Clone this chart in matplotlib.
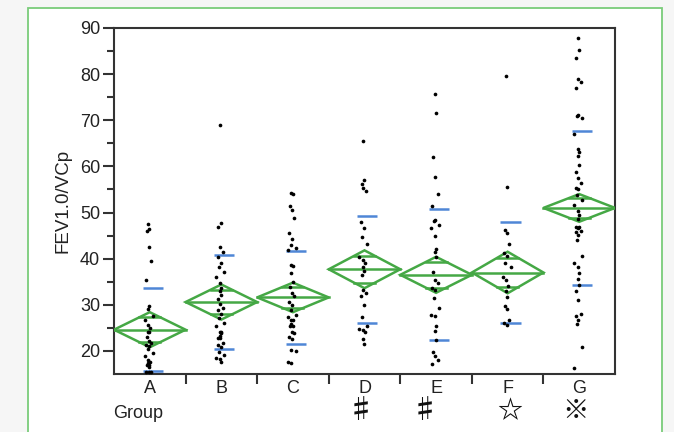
import numpy as np
import matplotlib
matplotlib.use("Agg")
import matplotlib.pyplot as plt
from matplotlib.patches import Rectangle, Polygon

plt.rcParams['font.family'] = ['Liberation Sans', 'DejaVu Sans', 'Noto Sans CJK JP']

# ---- data -------------------------------------------------------------
groups = ["A", "B", "C", "D", "E", "F", "G"]
marks = ["", "", "", "\u266F", "\u266F", "\u2606", "\u203B"]

group_a = [47.5, 46.4, 45.9, 42.6, 39.4, 35.4, 29.8, 29.1, 27.6, 26.6, 25.6, 24.9,
           24.2, 24.0, 23.1, 22.2, 21.7, 21.3, 21.1, 20.4, 19.5, 18.8, 18.0, 17.5,
           17.3, 17.0, 17.0, 16.6, 15.5, 15.5, 15.4]
group_b = [69.0, 47.7, 46.8, 42.6, 41.5, 40.4, 39.1, 38.3, 37.2, 36.1, 34.7, 33.6,
           32.9, 32.1, 31.2, 30.2, 29.3, 28.9, 28.0, 27.1, 26.0, 25.3, 24.2, 24.0,
           23.3, 23.8, 22.7, 22.7, 21.7, 21.3, 20.9, 19.8, 19.1, 18.4, 18.2, 17.5]
group_c = [54.3, 54.0, 51.4, 50.6, 48.8, 45.5, 44.2, 43.0, 42.3, 41.9, 38.6, 38.4,
           36.8, 35.0, 33.9, 32.6, 31.8, 30.7, 30.0, 28.9, 27.8, 27.4, 26.7, 26.7,
           25.9, 25.3, 25.3, 24.2, 23.8, 23.1, 22.5, 20.2, 19.9, 17.7, 17.3]
group_d = [65.6, 57.1, 56.2, 55.3, 54.7, 48.0, 46.6, 44.8, 43.2, 40.4, 39.7, 39.0,
           38.3, 37.4, 36.5, 33.1, 32.6, 31.8, 30.0, 27.4, 25.3, 24.7, 24.6, 24.2,
           22.5, 21.4]
group_e = [75.8, 71.6, 62.0, 57.8, 54.0, 51.4, 48.4, 48.2, 47.3, 46.6, 44.9, 42.0,
           41.5, 40.4, 37.2, 35.4, 34.7, 33.6, 33.2, 31.4, 29.3, 27.8, 27.6, 25.3,
           24.4, 22.4, 19.8, 18.9, 18.0, 17.2]
group_f = [79.6, 55.5, 46.2, 45.5, 43.2, 41.2, 40.6, 39.0, 38.3, 36.1, 35.4, 34.1,
           32.9, 31.6, 29.8, 29.0, 26.6, 26.0, 25.6]
group_g = [87.8, 85.3, 83.6, 79.0, 78.3, 77.0, 71.2, 70.9, 70.4, 67.0, 63.8, 63.1,
           62.2, 60.4, 58.8, 57.5, 56.4, 55.3, 55.2, 53.9, 52.8, 51.7, 50.4, 49.5,
           48.5, 46.8, 46.8, 46.6, 46.1, 45.8, 45.1, 44.1, 40.5, 39.1, 38.1, 36.9,
           35.5, 34.4, 32.9, 31.1, 28.0, 27.5, 26.8, 25.9, 20.8, 16.2]
values = [group_a, group_b, group_c, group_d, group_e, group_f, group_g]

means = [24.6, 30.6, 31.6, 37.7, 36.5, 37.0, 51.0]
std_devs = [9.0, 10.2, 10.0, 11.6, 14.2, 11.0, 16.6]
ci_half = [3.8, 3.8, 3.2, 4.1, 3.9, 4.5, 3.0]

# ---- styling ------------------------------------------------------------
GREEN = "#45a845"
BLUE = "#4f86d6"
FRAME = "#7acc7a"
AXIS = "#333333"
JITTER = [0.0, 0.015, -0.02, 0.005, 0.04, -0.03, 0.01, -0.01, 0.06, -0.05, 0.0, 0.02]

fig = plt.figure(figsize=(6.74, 4.32), dpi=100, facecolor="#f6f6f6")
fig.patches.append(Rectangle((28 / 674, -0.1), (662 - 28) / 674, 1.1 - 8 / 432,
                             transform=fig.transFigure, facecolor="white",
                             edgecolor=FRAME, linewidth=1.3, zorder=-5))

ax = fig.add_axes([114 / 674, 1 - 374 / 432, (615 - 114) / 674, (374 - 28) / 432])
ax.set_zorder(2)
ax.set_facecolor("white")

for i, vals in enumerate(values):
    xc = i + 1
    m, s, c = means[i], std_devs[i], ci_half[i]
    xs = [xc - 0.02 + JITTER[k % len(JITTER)] for k in range(len(vals))]
    ax.scatter(xs, vals, s=7, color="black", zorder=4, linewidths=0)

    # mean diamond with overlap marks
    diamond = Polygon([(xc - 0.5, m), (xc, m + c), (xc + 0.5, m), (xc, m - c)],
                      closed=True, fill=False, edgecolor=GREEN, linewidth=1.8, zorder=3)
    ax.add_patch(diamond)
    ax.plot([xc - 0.5, xc + 0.5], [m, m], color=GREEN, lw=1.8, zorder=3)
    off = c / np.sqrt(2)
    half = 0.5 * (1 - 1 / np.sqrt(2))
    for yy in (m + off, m - off):
        ax.plot([xc - half, xc + half], [yy, yy], color=GREEN, lw=1.8, zorder=3)

    # standard deviation markers
    for yy in (m + s, m - s):
        ax.plot([xc - 0.10, xc + 0.18], [yy, yy], color=BLUE, lw=1.8, zorder=3,
                solid_capstyle="butt")

ax.set_xlim(0.5, 7.5)
ax.set_ylim(15, 90)

for sp in ax.spines.values():
    sp.set_color(AXIS)
    sp.set_linewidth(1.5)

ax.set_yticks(np.arange(20, 91, 10))
ax.set_yticks(np.arange(25, 90, 10), minor=True)
ax.tick_params(axis="y", which="major", length=8, width=1.5, color=AXIS,
               labelsize=13, pad=2, labelcolor="#222222")
ax.tick_params(axis="y", which="minor", length=5, width=1.5, color=AXIS)

ax.set_xticks(np.arange(1.5, 7.5, 1.0))
ax.set_xticklabels([])
ax.set_xticks(np.arange(1, 8), minor=True)
ax.set_xticklabels(groups, minor=True)
ax.tick_params(axis="x", which="major", length=7, width=1.5, color=AXIS)
ax.tick_params(axis="x", which="minor", length=0, labelsize=13, pad=4,
               labelcolor="#222222")

ax.set_ylabel("FEV1.0/VCp", fontsize=13.5, color="#222222", labelpad=6)
fig.text(113 / 674, 1 - 414 / 432, "Group", fontsize=13, color="#222222",
         ha="left", va="center")

mark_pos = {3: (361, 411), 4: (425, 410), 5: (510, 411), 6: (575, 411)}
mark_size = {3: 19, 4: 19, 5: 18, 6: 19}
for i, (px, py) in mark_pos.items():
    fig.text(px / 674, 1 - py / 432, marks[i], fontsize=mark_size[i], color="#111111",
             ha="center", va="center", fontweight="bold",
             family=["Noto Sans CJK JP", "DejaVu Sans"])

fig.savefig("out.png", dpi=100, facecolor=fig.get_facecolor())
